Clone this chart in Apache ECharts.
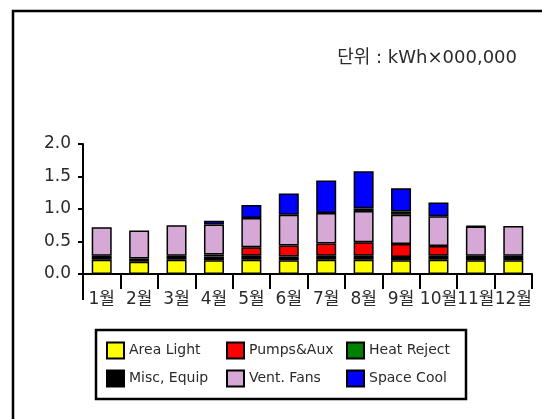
<!DOCTYPE html>
<html>
<head>
<meta charset="utf-8">
<script src="https://cdn.jsdelivr.net/npm/echarts@6/dist/echarts.min.js"></script>
<style>
  html, body { margin: 0; padding: 0; background: #fff; }
  #chart { width: 542px; height: 419px; }
</style>
</head>
<body>
<div id="chart"></div>
<script>
// Monthly energy use by end use (kWh x 1,000,000)
const months = ['1월','2월','3월','4월','5월','6월','7월','8월','9월','10월','11월','12월'];
const areaLight  = [0.22,0.19,0.22,0.21,0.22,0.21,0.22,0.22,0.21,0.22,0.21,0.21];
const miscEquip  = [0.06,0.05,0.06,0.06,0.06,0.06,0.06,0.06,0.05,0.06,0.07,0.07];
const pumpsAux   = [0,0,0,0.03,0.13,0.17,0.19,0.21,0.20,0.15,0,0];
const ventFans   = [0.44,0.43,0.47,0.46,0.45,0.47,0.47,0.48,0.45,0.46,0.45,0.46];
const heatReject = [0,0,0,0,0,0,0,0.04,0.05,0,0,0];
const spaceCool  = [0,0,0,0.06,0.20,0.33,0.50,0.57,0.36,0.21,0.01,0];
const yTicks = [0, 0.5, 1.0, 1.5, 2.0];

const FONT = '"DejaVu Sans", "Noto Sans CJK KR", sans-serif';
const TEXT = '#2a2a2a';

const seriesDefs = [
  { name: 'Area Light',  data: areaLight,  color: '#ffff00' },
  { name: 'Misc, Equip', data: miscEquip,  color: '#000000' },
  { name: 'Pumps&Aux',   data: pumpsAux,   color: '#ff0000' },
  { name: 'Vent. Fans',  data: ventFans,   color: '#d6a8d6' },
  { name: 'Heat Reject', data: heatReject, color: '#008000' },
  { name: 'Space Cool',  data: spaceCool,  color: '#0000ff' }
];

const chart = echarts.init(document.getElementById('chart'), null, { renderer: 'canvas' });

chart.setOption({
  backgroundColor: '#ffffff',
  animation: false,
  title: {
    text: '단위 : kWh×000,000',
    right: 20,
    top: 44,
    textStyle: { fontFamily: FONT, fontSize: 18, fontWeight: 'normal', color: TEXT }
  },
  legend: {
    data: ['Area Light','Pumps&Aux','Heat Reject','Misc, Equip','Vent. Fans','Space Cool'],
    icon: 'rect',
    left: 106,
    top: 341,
    width: 370,
    orient: 'horizontal',
    itemWidth: 17,
    itemHeight: 16,
    itemGap: 9,
    padding: 0,
    textStyle: { fontFamily: FONT, fontSize: 14, color: TEXT, width: 88, lineHeight: 19 }
  },
  grid: { left: 83, right: 10, top: 144, bottom: 145, containLabel: false },
  xAxis: {
    type: 'category',
    data: months,
    boundaryGap: true,
    axisLine: { lineStyle: { color: '#000', width: 2 } },
    axisTick: { show: true, length: 15, lineStyle: { color: '#000', width: 2 } },
    axisLabel: { interval: 0, margin: 17, fontFamily: FONT, fontSize: 17, color: TEXT }
  },
  yAxis: {
    type: 'value',
    min: yTicks[0],
    max: yTicks[yTicks.length - 1],
    interval: 0.5,
    splitLine: { show: false },
    axisLine: { show: true, lineStyle: { color: '#000', width: 2 } },
    axisTick: { show: true, length: 5, lineStyle: { color: '#000', width: 2 } },
    axisLabel: {
      margin: 12, fontFamily: FONT, fontSize: 17, color: TEXT,
      formatter: v => v.toFixed(1)
    }
  },
  graphic: [
    // outer frame (top and left edges)
    { type: 'polyline', silent: true,
      shape: { points: [[13, 419], [13, 11], [542, 11]] },
      style: { stroke: '#000', lineWidth: 2.5, fill: null } },
    // value axis line continues a little below the category axis
    { type: 'line', silent: true,
      shape: { x1: 83, y1: 274, x2: 83, y2: 300 },
      style: { stroke: '#000', lineWidth: 2 } },
    // legend box
    { type: 'rect', silent: true,
      shape: { x: 96, y: 330, width: 370, height: 69 },
      style: { stroke: '#000', lineWidth: 2.5, fill: null } }
  ],
  series: seriesDefs.map(s => ({
    name: s.name,
    type: 'bar',
    stack: 'total',
    barWidth: 20,
    data: s.data.map(v => (v === 0 ? '-' : v)),
    itemStyle: { color: s.color, borderColor: '#000', borderWidth: 1.5 }
  }))
});
</script>
</body>
</html>
